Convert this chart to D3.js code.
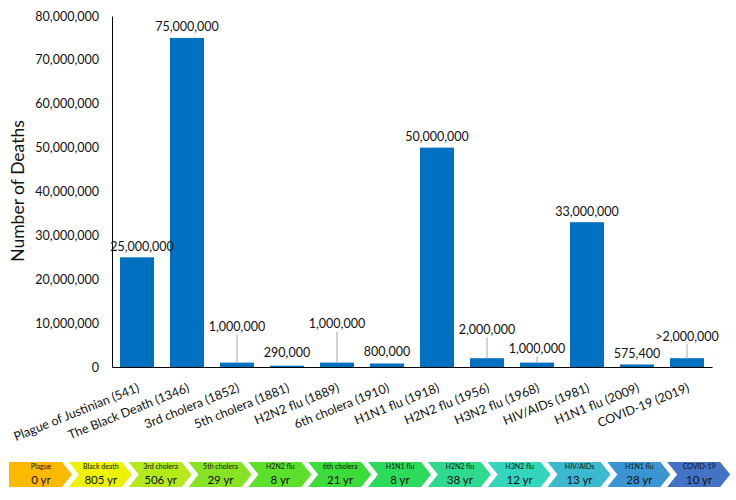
<!DOCTYPE html>
<html>
<head>
<meta charset="utf-8">
<script src="https://cdn.jsdelivr.net/npm/d3@7"></script>
<style>
  body { margin: 0; background: #fff; }
  text { font-family: Lato, "Noto Sans", sans-serif; fill: #111; }
</style>
</head>
<body>
<svg id="chart" width="736" height="500"></svg>
<script>
// pandemic death tolls
var categories = ["Plague of Justinian (541)", "The Black Death (1346)", "3rd cholera (1852)", "5th cholera (1881)",
  "H2N2 flu (1889)", "6th cholera (1910)", "H1N1 flu (1918)", "H2N2 flu (1956)", "H3N2 flu (1968)",
  "HIV/AIDs (1981)", "H1N1 flu (2009)", "COVID-19 (2019)"];
var deaths = [25000000, 75000000, 1000000, 290000, 1000000, 800000, 50000000, 2000000, 1000000, 33000000, 575400, 2000000];
var valueLabels = ["25,000,000", "75,000,000", "1,000,000", "290,000", "1,000,000", "800,000", "50,000,000",
  "2,000,000", "1,000,000", "33,000,000", "575,400", ">2,000,000"];
var yTicks = [0, 10000000, 20000000, 30000000, 40000000, 50000000, 60000000, 70000000, 80000000];

// timeline strip
var stageNames = ["Plague", "Black death", "3rd cholera", "5th cholera", "H2N2 flu", "6th cholera",
  "H1N1 flu", "H2N2 flu", "H3N2 flu", "HIV/AIDs", "H1N1 flu", "COVID-19"];
var stageGaps = ["0 yr", "805 yr", "506 yr", "29 yr", "8 yr", "21 yr", "8 yr", "38 yr", "12 yr", "13 yr", "28 yr", "10 yr"];
var stageColors = ["#FBBA00", "#EEF200", "#B4EA1C", "#88E325", "#5CE02C", "#3CDC3A",
  "#2DDB5C", "#2FD98D", "#31D6BC", "#3AB9CF", "#3B95D2", "#4472C4"];

var svg = d3.select("#chart");

var x = d3.scaleBand()
  .domain(categories)
  .range([112, 712])
  .paddingInner(0.32)
  .paddingOuter(0.16);

var y = d3.scaleLinear()
  .domain([0, 80000000])
  .range([367, 16]);

// manual label lifts (px above bar top) and nudges, like the hand-placed excel labels
var labelLift = [11, 11, 36, 13, 39, 11.5, 11, 29, 14, 11, 10.5, 22];
var labelNudge = [5, 0, 0, 0, 0, 0, 0, 0, 0, 0, 0, 0];

svg.append("g")
  .attr("class", "axis axis--y")
  .attr("transform", "translate(112,0)")
  .call(d3.axisLeft(y).tickValues(yTicks).tickSize(0).tickPadding(13).tickFormat(d3.format(",")))
  .call(function (g) {
    g.select(".domain").attr("stroke", "#000");
    g.selectAll("text").style("font-size", "12.5px").style("font-family", "Lato, sans-serif").attr("fill", "#111");
  });

svg.append("text")
  .attr("transform", "translate(24,191) rotate(-90)")
  .style("text-anchor", "middle")
  .style("font-size", "17.5px")
  .text("Number of Deaths");

svg.append("g")
  .attr("class", "bars")
  .selectAll("rect")
  .data(deaths)
  .enter().append("rect")
  .attr("x", function (d, i) { return x(categories[i]); })
  .attr("y", function (d) { return y(d); })
  .attr("width", x.bandwidth())
  .attr("height", function (d) { return y(0) - y(d); })
  .attr("fill", "#0070C0");

// leader lines for lifted labels
svg.append("g")
  .selectAll("line")
  .data(deaths.map(function (d, i) { return i; }).filter(function (i) { return labelLift[i] >= 14 && deaths[i] < 5000000; }))
  .enter().append("line")
  .attr("x1", function (i) { return x(categories[i]) + x.bandwidth() / 2; })
  .attr("x2", function (i) { return x(categories[i]) + x.bandwidth() / 2; })
  .attr("y1", function (i) { return y(deaths[i]) - labelLift[i] + 8; })
  .attr("y2", function (i) { return y(deaths[i]); })
  .attr("stroke", "#A6A6A6")
  .attr("stroke-width", 1);

svg.append("g")
  .selectAll("text")
  .data(valueLabels)
  .enter().append("text")
  .attr("x", function (d, i) { return x(categories[i]) + x.bandwidth() / 2 + labelNudge[i]; })
  .attr("y", function (d, i) { return y(deaths[i]) - labelLift[i]; })
  .attr("dy", "0.35em")
  .style("text-anchor", "middle")
  .style("font-size", "12.5px")
  .text(function (d) { return d; });

svg.append("g")
  .attr("class", "axis axis--x")
  .attr("transform", "translate(0,367)")
  .call(d3.axisBottom(x).tickSize(0).tickSizeOuter(0))
  .call(function (g) {
    g.select(".domain").attr("stroke", "#000");
    g.selectAll("text")
      .attr("x", null).attr("y", null).attr("dy", null)
      .attr("transform", "translate(3,24) rotate(-22)")
      .style("text-anchor", "end")
      .style("font-size", "12.5px")
      .style("font-family", "Lato, sans-serif")
      .attr("fill", "#111");
  });

// chevron timeline
var cx = d3.scaleBand()
  .domain(d3.range(stageNames.length))
  .range([9, 727]);

var yTop = 462, yBot = 487, yMid = (yTop + yBot) / 2, body = 53, tip = 10;

function chevron(i) {
  var x0 = cx(i);
  var pts = [[x0, yTop], [x0 + body, yTop], [x0 + body + tip, yMid], [x0 + body, yBot], [x0, yBot]];
  if (i > 0) pts.push([x0 + tip, yMid]);
  return "M" + pts.join("L") + "Z";
}

var stage = svg.append("g")
  .attr("class", "timeline")
  .selectAll("g")
  .data(stageNames)
  .enter().append("g");

stage.append("path")
  .attr("d", function (d, i) { return chevron(i); })
  .attr("fill", function (d, i) { return stageColors[i]; });

stage.append("text")
  .attr("x", function (d, i) { return cx(i) + 32; })
  .attr("y", 469)
  .style("text-anchor", "middle")
  .style("font-size", "7px")
  .text(function (d) { return d; });

stage.append("text")
  .attr("x", function (d, i) { return cx(i) + 32; })
  .attr("y", 483.5)
  .style("text-anchor", "middle")
  .style("font-size", "11.5px")
  .text(function (d, i) { return stageGaps[i]; });
</script>
</body>
</html>
